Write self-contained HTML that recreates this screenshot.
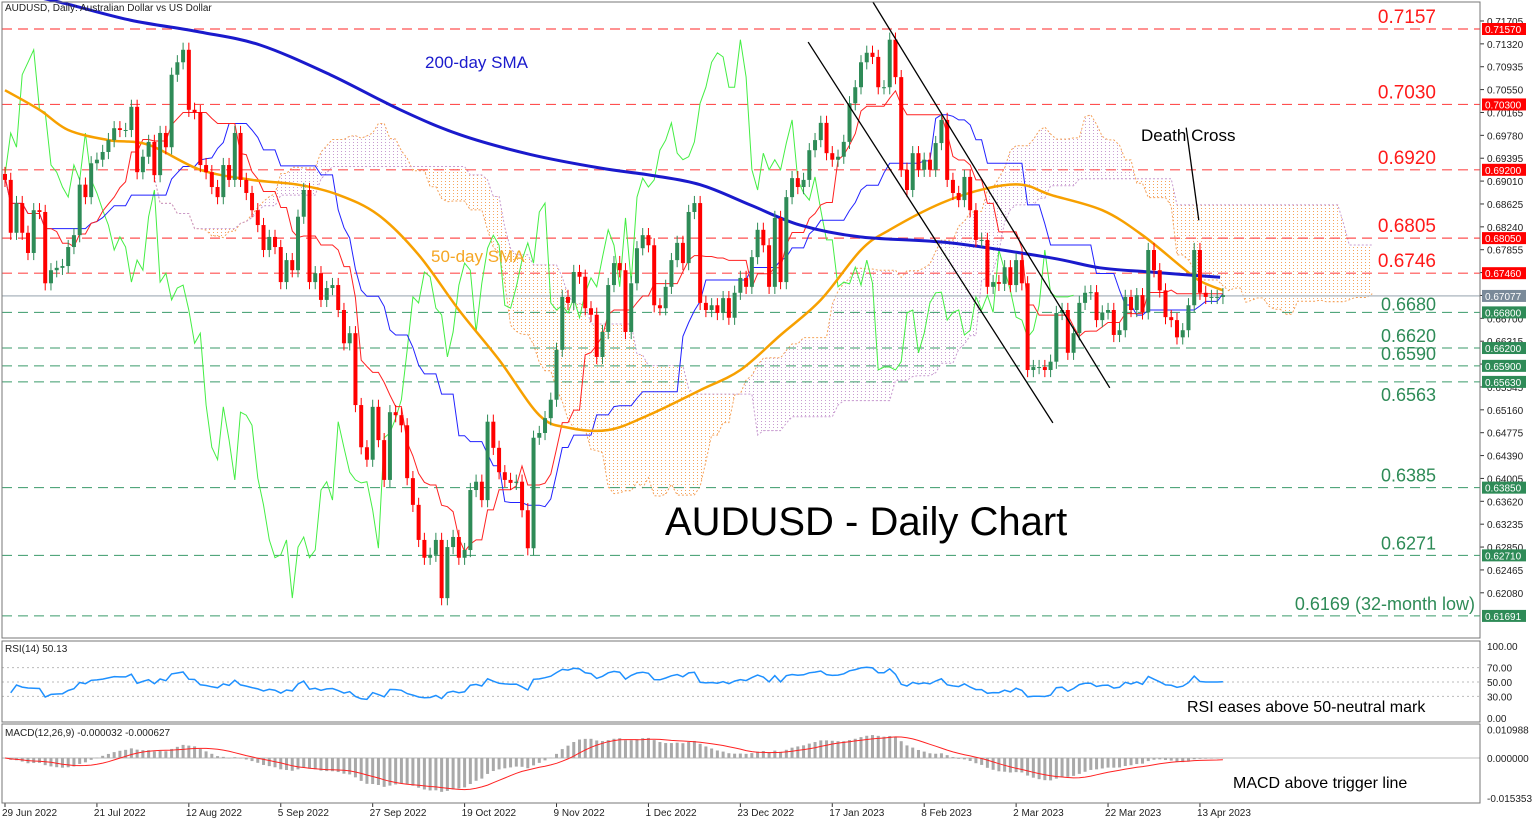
<!DOCTYPE html>
<html><head><meta charset="utf-8"><style>
html,body{margin:0;padding:0;background:#fff;}
svg{display:block;font-family:"Liberation Sans",sans-serif;}
</style></head><body>
<svg id="chart" width="1536" height="821" viewBox="0 0 1536 821" xmlns="http://www.w3.org/2000/svg">
<defs>
<pattern id="dotPink" width="4" height="3" patternUnits="userSpaceOnUse"><rect x="1" y="1" width="1" height="1" fill="#c89bd0"/></pattern>
<pattern id="dotOrange" width="4" height="3" patternUnits="userSpaceOnUse"><rect x="1" y="1" width="1" height="1" fill="#f5a25a"/></pattern>
</defs>
<rect x="0" y="0" width="1536" height="821" fill="#fff"/>
<g id="cloud"></g>
<g id="levels"></g>
<g id="lines"></g>
<g id="candles"></g>
<g id="annot"></g>
<g id="axis"></g>
<g id="rsi"></g>
<g id="macd"></g>
<g id="dates"></g>
<rect x="2" y="2" width="1478" height="636" fill="none" stroke="#777" stroke-width="1"/>
<rect x="2" y="641" width="1478" height="81" fill="none" stroke="#777" stroke-width="1"/>
<rect x="2" y="724" width="1478" height="79" fill="none" stroke="#777" stroke-width="1"/>
<text x="5" y="11" font-size="10" fill="#222">AUDUSD, Daily:  Australian Dollar vs US Dollar</text>
<text x="5" y="652" font-size="10" fill="#222">RSI(14) 50.13</text>
<text x="5" y="736" font-size="10" fill="#222">MACD(12,26,9) -0.000032 -0.000627</text>
<text x="665" y="535" font-size="40" fill="#000">AUDUSD - Daily Chart</text>
<text x="425" y="68" font-size="17" fill="#1a1acc">200-day SMA</text>
<text x="431" y="262" font-size="17" fill="#f5a623">50-day SMA</text>
<text x="1141" y="141" font-size="17" fill="#000">Death Cross</text>
<text x="1187" y="712" font-size="16" fill="#000">RSI eases above 50-neutral mark</text>
<text x="1233" y="788" font-size="16" fill="#000">MACD above trigger line</text>
</svg>
<script>
const closes=[0.6903,0.6814,0.6864,0.6814,0.6780,0.6852,0.6849,0.6729,0.6751,0.6755,0.6758,0.6790,0.6810,0.6895,0.6874,0.6931,0.6937,0.6950,0.6970,0.6990,0.6987,0.6987,0.7026,0.6916,0.6942,0.6967,0.6911,0.6982,0.6958,0.7080,0.7101,0.7122,0.7021,0.7017,0.6928,0.6916,0.6891,0.6874,0.6928,0.6903,0.6982,0.6903,0.6881,0.6852,0.6827,0.6785,0.6807,0.6790,0.6731,0.6768,0.6751,0.6841,0.6886,0.6731,0.6746,0.6701,0.6721,0.6726,0.6684,0.6628,0.6645,0.6524,0.6453,0.6432,0.6521,0.6465,0.6398,0.6512,0.6507,0.6490,0.6401,0.6356,0.6297,0.6267,0.6272,0.6297,0.6199,0.6285,0.6302,0.6267,0.6280,0.6381,0.6395,0.6364,0.6496,0.6452,0.6411,0.6398,0.6393,0.6395,0.6347,0.6283,0.6469,0.6477,0.6502,0.6533,0.6617,0.6706,0.6696,0.6748,0.6740,0.6687,0.6676,0.6605,0.6647,0.6726,0.6763,0.6751,0.6647,0.6729,0.6788,0.6810,0.6793,0.6692,0.6687,0.6723,0.6768,0.6797,0.6763,0.6849,0.6864,0.6696,0.6684,0.6692,0.6679,0.6704,0.6671,0.6713,0.6738,0.6723,0.6773,0.6819,0.6793,0.6723,0.6839,0.6731,0.6874,0.6906,0.6891,0.6903,0.6953,0.6970,0.6999,0.6948,0.6937,0.6942,0.6967,0.7032,0.7059,0.7101,0.7117,0.7110,0.7059,0.7059,0.7139,0.7076,0.6920,0.6886,0.6948,0.6920,0.6937,0.6920,0.6965,0.7004,0.6903,0.6881,0.6869,0.6908,0.6852,0.6802,0.6802,0.6723,0.6731,0.6728,0.6756,0.6726,0.6768,0.6729,0.6583,0.6588,0.6588,0.6583,0.6597,0.6679,0.6684,0.6612,0.6645,0.6696,0.6713,0.6714,0.6667,0.6680,0.6684,0.6642,0.6650,0.6706,0.6684,0.6709,0.6680,0.6785,0.6751,0.6717,0.6672,0.6667,0.6638,0.6650,0.6692,0.6785,0.6713,0.6706,0.6706,0.6706,0.6709];
const sma200Idx=[0,9.6,21.8,33.9,44.4,56.6,68.8,79.2,91.4,103.6,112.3,121,129.7,138.4,148.8,164.5,181.9,190.6,199.3,211.5];
const sma200Val=[0.7222,0.7202,0.7172,0.7152,0.7130,0.7080,0.7021,0.6979,0.6946,0.6923,0.6911,0.6895,0.6861,0.6827,0.6807,0.6797,0.6772,0.6755,0.6748,0.6739];
const sma50Idx=[0,6,11,18,25,34,43,51,58,65,72,79,86,93,98,105,112,121,128,135,142,149,154,163,171,177,182,191,198,205,208,212];
const sma50Val=[0.7054,0.7021,0.6987,0.6970,0.6962,0.6920,0.6903,0.6895,0.6878,0.6844,0.6777,0.6684,0.6600,0.6507,0.6486,0.6482,0.6507,0.6549,0.6583,0.6642,0.6701,0.6785,0.6819,0.6864,0.6889,0.6895,0.6878,0.6852,0.6810,0.6755,0.6733,0.6717];
const redLevels=[0.7157,0.7030,0.6920,0.6805,0.6746];
const redLabels=["0.7157","0.7030","0.6920","0.6805","0.6746"];
const greenLevels=[0.6680,0.6620,0.6590,0.6563,0.6385,0.6271,0.61691];
const greenLabels=["0.6680","0.6620","0.6590","0.6563","0.6385","0.6271","0.6169 (32-month low)"];
const boxLabels=["0.71570","0.70300","0.69200","0.68050","0.67460","0.66800","0.66200","0.65900","0.65630","0.63850","0.62710","0.61691"];
const currentPrice=0.67077;
const priceTicks=["0.71705","0.71320","0.70935","0.70550","0.70165","0.69780","0.69395","0.69010","0.68625","0.68240","0.67855","0.67470","0.67085","0.66700","0.66315","0.65930","0.65545","0.65160","0.64775","0.64390","0.64005","0.63620","0.63235","0.62850","0.62465","0.62080"];
const dateLabels=["29 Jun 2022","21 Jul 2022","12 Aug 2022","5 Sep 2022","27 Sep 2022","19 Oct 2022","9 Nov 2022","1 Dec 2022","23 Dec 2022","17 Jan 2023","8 Feb 2023","2 Mar 2023","22 Mar 2023","13 Apr 2023"];
const trendA=[[139.8,0.7135],[182.4,0.6494]];
const trendB=[[151.1,0.7202],[192.3,0.6553]];
const deathCross=[[205.6,0.6991],[207.8,0.6835]];
const rsiTicks=[100,70,50,30,0];
const macdTicks=["0.010988","0.000000","-0.015353"];
const macdTickVals=[0.010988,0,-0.015353];

const NS="http://www.w3.org/2000/svg";
const X=i=>5+i*5.745;
const Y=p=>29+(0.7157-p)*5941;
const RY=v=>718-v*0.72;
const MY=v=>758-v*2600;
function mk(tag,attrs,parent,txt){const e=document.createElementNS(NS,tag);for(const k in attrs)e.setAttribute(k,attrs[k]);if(txt!==undefined)e.textContent=txt;parent.appendChild(e);return e;}
const g=id=>document.getElementById(id);
const N=closes.length;
const opens=closes.map((c,i)=>i?closes[i-1]:c+0.001);
const highs=closes.map((c,i)=>Math.max(c,opens[i])+0.0012);
const lows=closes.map((c,i)=>Math.min(c,opens[i])-0.0012);
function mid(i,n){let h=-1,l=9;for(let k=Math.max(0,i-n+1);k<=i;k++){h=Math.max(h,highs[k]);l=Math.min(l,lows[k]);}return (h+l)/2;}
const tenkan=closes.map((c,i)=>mid(i,9));
const kijun=closes.map((c,i)=>mid(i,26));
const spanA=closes.map((c,i)=>(tenkan[i]+kijun[i])/2);
const spanB=closes.map((c,i)=>mid(i,52));

const cl=g('cloud');
for(let i=0;i<N-1;i++){
  const x1=X(i+26),x2=X(i+27);
  if(x1>1478)break;
  const a1=spanA[i],a2=spanA[i+1],b1=spanB[i],b2=spanB[i+1];
  const poly=mk('polygon',{points:`${x1},${Y(a1)} ${x2},${Y(a2)} ${x2},${Y(b2)} ${x1},${Y(b1)}`,fill:(a1>=b1)?'url(#dotPink)':'url(#dotOrange)',stroke:'none'},cl);
  
  
}
function path(pts,attrs,parent,name){const d=pts.map((p,k)=>(k?'L':'M')+p[0].toFixed(1)+','+p[1].toFixed(1)).join('');const e=mk('path',Object.assign({d:d,fill:'none'},attrs),parent);return e;}
function smooth(pts,attrs,parent,name){let d='M'+pts[0][0]+','+pts[0][1];for(let k=0;k<pts.length-1;k++){const p0=pts[Math.max(0,k-1)],p1=pts[k],p2=pts[k+1],p3=pts[Math.min(pts.length-1,k+2)];const c1=[p1[0]+(p2[0]-p0[0])/6,p1[1]+(p2[1]-p0[1])/6],c2=[p2[0]-(p3[0]-p1[0])/6,p2[1]-(p3[1]-p1[1])/6];d+=`C${c1[0].toFixed(1)},${c1[1].toFixed(1)} ${c2[0].toFixed(1)},${c2[1].toFixed(1)} ${p2[0].toFixed(1)},${p2[1].toFixed(1)}`;}const e=mk('path',Object.assign({d:d,fill:'none'},attrs),parent);return e;}
const cA=[],cB=[];
for(let i=0;i<N;i++){if(X(i+26)<=1480){cA.push([X(i+26),Y(spanA[i])]);cB.push([X(i+26),Y(spanB[i])]);}}
path(cA,{stroke:'#f5a25a','stroke-width':1,'stroke-dasharray':'2,2'},cl,'senkou-span-a');
path(cB,{stroke:'#c89bd0','stroke-width':1,'stroke-dasharray':'2,2'},cl,'senkou-span-b');

const lv=g('levels');
redLevels.forEach((p,k)=>{
  const l=mk('line',{x1:2,x2:1480,y1:Y(p),y2:Y(p),stroke:'#ff5050','stroke-width':1.2,'stroke-dasharray':'10,6'},lv);
  
  const t=mk('text',{x:1436,y:Y(p)-6,'font-size':19,fill:'#ff1a1a','text-anchor':'end'},lv,redLabels[k]);
  
});
greenLevels.forEach((p,k)=>{
  const l=mk('line',{x1:2,x2:1480,y1:Y(p),y2:Y(p),stroke:'#3a9a6a','stroke-width':1,'stroke-dasharray':'10,6'},lv);
  
  const dy=(k==0)?-2:(k==3?19:-6);
  const t=mk('text',{x:(k==6?1475:1436),y:Y(p)+dy,'font-size':18,fill:'#2e8b57','text-anchor':'end'},lv,greenLabels[k]);
  
});
const cp=mk('line',{x1:2,x2:1480,y1:Y(currentPrice),y2:Y(currentPrice),stroke:'#b8c0c8','stroke-width':1.5},lv);


const ln=g('lines');
const chik=[];for(let i=26;i<N;i++)chik.push([X(i-26),Y(closes[i])]);
path(chik,{stroke:'#44ee44','stroke-width':1},ln,'chikou-span');
path(kijun.map((v,i)=>[X(i),Y(v)]),{stroke:'#2222ff','stroke-width':1},ln,'kijun-sen');
path(tenkan.map((v,i)=>[X(i),Y(v)]),{stroke:'#ff2222','stroke-width':1},ln,'tenkan-sen');
smooth(sma50Idx.map((v,k)=>[X(v),Y(sma50Val[k])]),{stroke:'#f7a000','stroke-width':2.5},ln,'sma50-line');
smooth(sma200Idx.map((v,k)=>[X(v),Y(sma200Val[k])]),{stroke:'#1a1acc','stroke-width':3},ln,'sma200-line');

const cg=g('candles');
for(let i=0;i<N;i++){
  const up=closes[i]>=opens[i];const col=up?'#2e8b57':'#ff0000';const x=X(i);
  const w=mk('line',{x1:x,x2:x,y1:Y(highs[i]),y2:Y(lows[i]),stroke:col,'stroke-width':1},cg);
  
  const top=Y(Math.max(opens[i],closes[i])),bot=Y(Math.min(opens[i],closes[i]));
  const b=mk('rect',{x:x-2,y:top,width:4,height:Math.max(1,bot-top),fill:col},cg);
  
}

const an=g('annot');
[trendA,trendB].forEach(t=>{const l=mk('line',{x1:X(t[0][0]),y1:Y(t[0][1]),x2:X(t[1][0]),y2:Y(t[1][1]),stroke:'#000','stroke-width':1.3},an);});
const dc=mk('line',{x1:X(deathCross[0][0]),y1:Y(deathCross[0][1]),x2:X(deathCross[1][0]),y2:Y(deathCross[1][1]),stroke:'#000','stroke-width':1.3},an);


const ax=g('axis');
priceTicks.forEach(t=>{const y=Y(parseFloat(t));
  const tk=mk('line',{x1:1480,x2:1484,y1:y,y2:y,stroke:'#333'},ax);
  const tx=mk('text',{x:1487,y:y+4,'font-size':10,fill:'#222'},ax,t);});
boxLabels.forEach((t,k)=>{const y=Y(parseFloat(t));const col=k<5?'#ff0000':'#2e8b57';
  const r=mk('rect',{x:1482,y:y-6,width:44,height:12,fill:col},ax);
  const tx=mk('text',{x:1485,y:y+4,'font-size':10,fill:'#fff'},ax,t);});
{const y=Y(currentPrice);const r=mk('rect',{x:1482,y:y-6,width:44,height:12,fill:'#7a8a99'},ax);
 const tx=mk('text',{x:1485,y:y+4,'font-size':10,fill:'#fff'},ax,'0.67077');}

const rg=g('rsi');
const rsi=[];let ag=0,al=0;
for(let i=1;i<N;i++){const d=closes[i]-closes[i-1];const gn=Math.max(d,0),ls=Math.max(-d,0);
  const n=Math.min(i,14);ag=(ag*(n-1)+gn)/n;al=(al*(n-1)+ls)/n;
  const r=al==0?100:100-100/(1+ag/al);
  rsi.push([i,i<5?50+(r-50)*0.3:r]);}
[70,50,30].forEach(v=>{const l=mk('line',{x1:2,x2:1480,y1:RY(v),y2:RY(v),stroke:'#bbb','stroke-dasharray':'2,3'},rg);});
path(rsi.map(p=>[X(p[0]),RY(p[1])]),{stroke:'#1e90ff','stroke-width':1.5},rg,'rsi-line');
rsiTicks.forEach(v=>{const t=mk('text',{x:1487,y:RY(v)+4,'font-size':10,fill:'#222'},rg,v.toFixed(2));});

const mg=g('macd');
function ema(arr,n){const k=2/(n+1);const o=[];arr.forEach((v,i)=>o.push(i?v*k+o[i-1]*(1-k):v));return o;}
const e12=ema(closes,12),e26=ema(closes,26);
const macd=closes.map((c,i)=>e12[i]-e26[i]);
const sig=macd.map((v,i)=>{let s=0,c=0;for(let k=Math.max(0,i-8);k<=i;k++){s+=macd[k];c++;}return s/c;});
const z=mk('line',{x1:2,x2:1480,y1:MY(0),y2:MY(0),stroke:'#bbb'},mg);
macd.forEach((v,i)=>{const y=MY(v);const b=mk('rect',{x:X(i)-1.5,y:Math.min(y,MY(0)),width:3,height:Math.max(0.5,Math.abs(y-MY(0))),fill:'#a9a9a9'},mg);});
path(sig.map((v,i)=>[X(i),MY(v)]),{stroke:'#ff2222','stroke-width':1},mg,'macd-signal-line');
macdTicks.forEach((t,k)=>{const tx=mk('text',{x:1487,y:MY(macdTickVals[k])+4,'font-size':10,fill:'#222'},mg,t);});

const dg=g('dates');
dateLabels.forEach((d,k)=>{const x=X(k*16);
  const tk=mk('line',{x1:x,x2:x,y1:803,y2:807,stroke:'#333'},dg);
  const t=mk('text',{x:x-3,y:816,'font-size':10,fill:'#222'},dg,d);});
</script>
</body></html>
